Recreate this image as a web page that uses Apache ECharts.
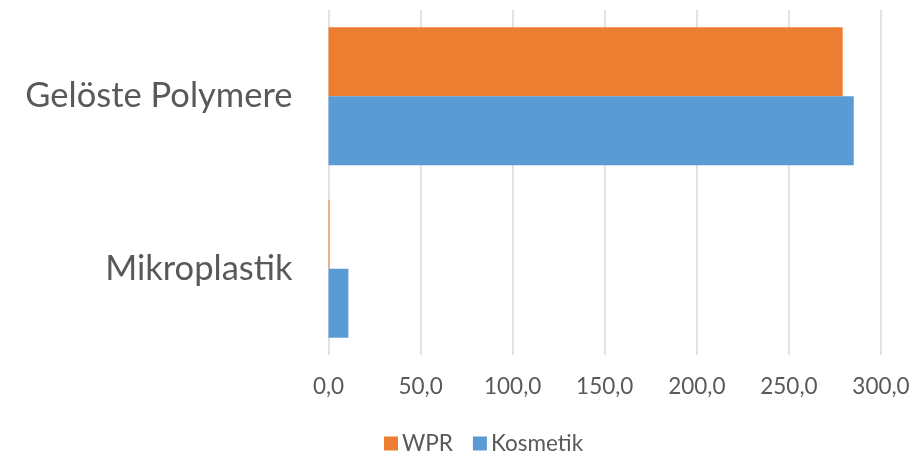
<!DOCTYPE html>
<html>
<head>
<meta charset="utf-8">
<script src="https://cdn.jsdelivr.net/npm/echarts@6/dist/echarts.min.js"></script>
<style>
  html, body { margin: 0; padding: 0; background: #fff; }
  #chart { width: 915px; height: 452px; }
</style>
</head>
<body>
<div id="chart"></div>
<script>
// Categories listed bottom-to-top (ECharts category y axis starts at the bottom)
const categories = ['Mikroplastik', 'Gelöste Polymere'];
const wprValues = [0.5, 279.2];
const kosmetikValues = [10.8, 285.2];
const seriesNames = ['WPR', 'Kosmetik'];

const textColor = '#595959';
const fontFamily = 'Lato, "Open Sans", sans-serif';

const chart = echarts.init(document.getElementById('chart'), null, { renderer: 'canvas' });
chart.setOption({
  animation: false,
  backgroundColor: '#ffffff',
  legend: {
    data: seriesNames,
    top: 427,
    left: 379,
    itemWidth: 14,
    itemHeight: 14,
    itemGap: 20,
    icon: 'rect',
    textStyle: { color: textColor, fontSize: 22.5, fontFamily: fontFamily, padding: [0, 0, 0, -1] }
  },
  grid: { left: 328.5, right: 34, top: 10, bottom: 97, containLabel: false },
  xAxis: {
    type: 'value',
    min: 0,
    max: 300,
    interval: 50,
    axisLine: { show: false },
    axisTick: { show: false },
    splitLine: { show: true, lineStyle: { color: '#d9d9d9', width: 1.5 } },
    axisLabel: {
      color: textColor,
      fontSize: 22.5,
      fontFamily: fontFamily,
      margin: 20,
      formatter: v => v.toFixed(1).replace('.', ',')
    }
  },
  yAxis: {
    type: 'category',
    data: categories,
    axisLine: { show: false },
    axisTick: { show: false },
    splitLine: { show: false },
    axisLabel: { color: textColor, fontSize: 34.5, fontFamily: fontFamily, margin: 36 }
  },
  series: [
    {
      name: 'WPR',
      type: 'bar',
      data: wprValues,
      barGap: '0%',
      barCategoryGap: '20%',
      itemStyle: { color: '#ed7d31' }
    },
    {
      name: 'Kosmetik',
      type: 'bar',
      data: kosmetikValues,
      barGap: '0%',
      barCategoryGap: '20%',
      itemStyle: { color: '#5b9bd5' }
    }
  ]
});
</script>
</body>
</html>
